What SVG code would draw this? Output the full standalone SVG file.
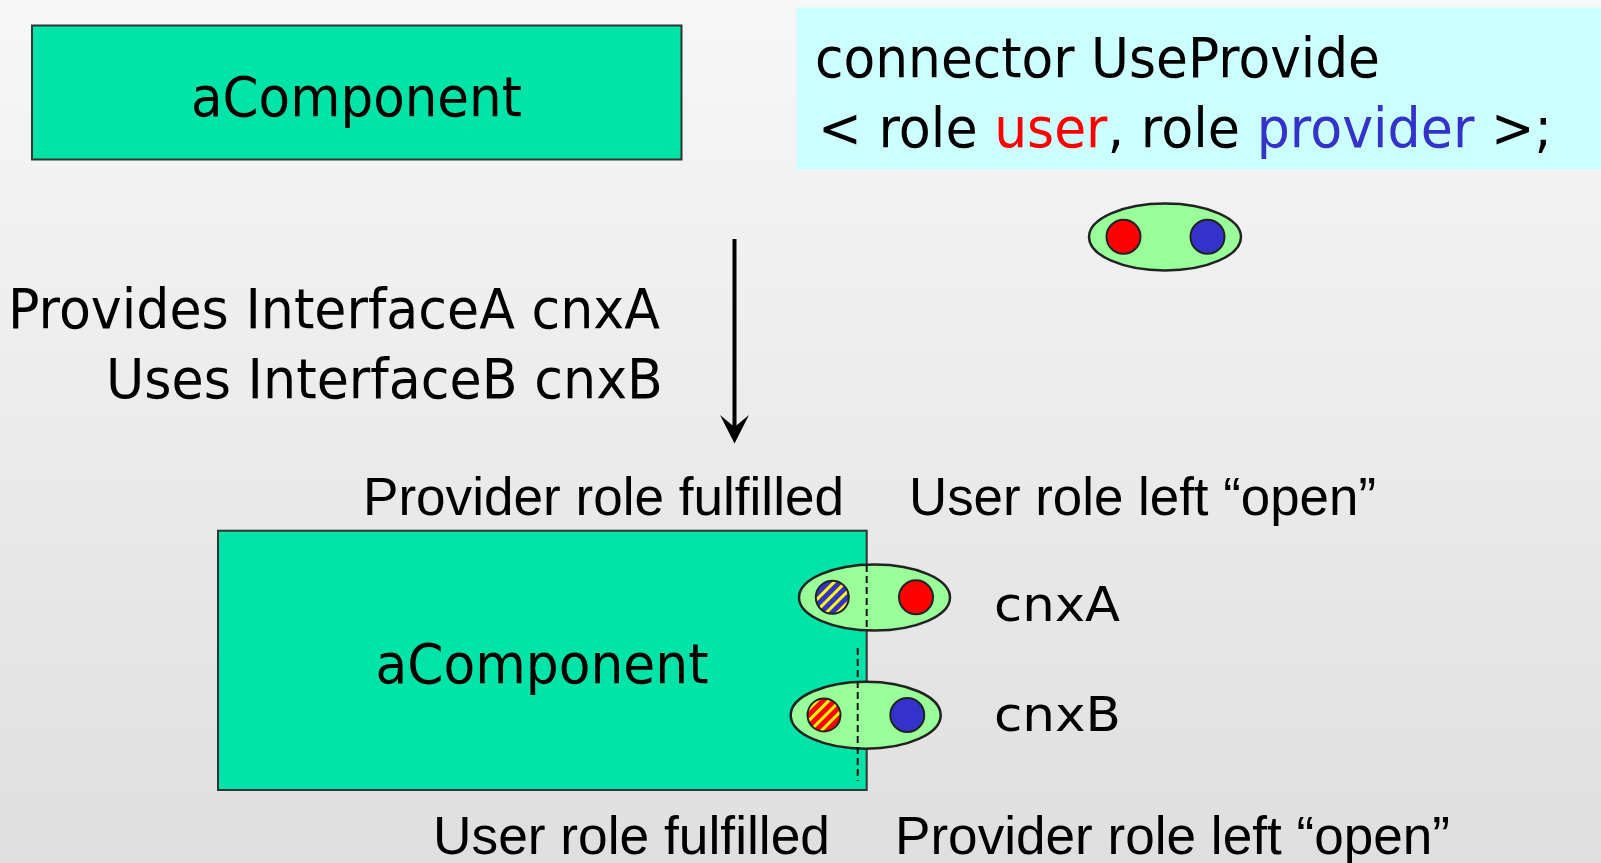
<svg xmlns="http://www.w3.org/2000/svg" width="1601" height="863" viewBox="0 0 1601 863">
  <defs>
    <linearGradient id="bg" x1="0" y1="0" x2="0" y2="1">
      <stop offset="0" stop-color="#F7F7F7"/>
      <stop offset="1" stop-color="#DFDFDF"/>
    </linearGradient>
    <!-- diagonal yellow stripes over the role colour -->
    <pattern id="hatchBlue" patternUnits="userSpaceOnUse" width="8" height="8" patternTransform="rotate(45)">
      <rect width="8" height="8" fill="#3333CC"/>
      <rect width="3" height="8" fill="#FFFF00"/>
    </pattern>
    <pattern id="hatchRed" patternUnits="userSpaceOnUse" width="8" height="8" patternTransform="rotate(45)">
      <rect width="8" height="8" fill="#FF0000"/>
      <rect width="3" height="8" fill="#FFFF00"/>
    </pattern>
  </defs>
  <style>
    .comp { fill: #00E4A8; stroke: #333333; stroke-width: 2; }
    .cnx { fill: #99FF99; stroke: #222222; stroke-width: 2.5; }
    .role { stroke: #222222; stroke-width: 2; }
    .user { fill: #FF0000; }
    .prov { fill: #3333CC; }
    .dash { stroke: #111111; stroke-width: 2; stroke-dasharray: 7 4; fill: none; }
    .tah { font-family: "DejaVu Sans", Verdana, sans-serif; fill: #000000; }
    .ari { font-family: "Liberation Sans", Arial, sans-serif; fill: #000000; font-size: 54px; }
  </style>

  <rect x="0" y="0" width="1601" height="863" fill="url(#bg)"/>

  <!-- component before binding -->
  <g id="component-top">
    <rect class="comp" x="32" y="25.5" width="649.5" height="134"/>
    <text class="tah" x="191" y="116" font-size="55" textLength="331" lengthAdjust="spacingAndGlyphs">aComponent</text>
  </g>

  <!-- connector declaration -->
  <g id="connector-decl">
    <rect x="796.5" y="7.5" width="805" height="162.5" fill="#CCFFFF"/>
    <text class="tah" x="815" y="77" font-size="56" textLength="565" lengthAdjust="spacingAndGlyphs">connector UseProvide</text>
    <text class="tah" x="818" y="147" font-size="56" textLength="159.6" lengthAdjust="spacingAndGlyphs">&lt; role</text>
    <text class="tah" x="994.2" y="147" font-size="56" textLength="113.3" lengthAdjust="spacingAndGlyphs" fill="#FF0000" style="fill:#FF0000">user</text>
    <text class="tah" x="1107.5" y="147" font-size="56" textLength="132.6" lengthAdjust="spacingAndGlyphs">, role</text>
    <text class="tah" x="1256.7" y="147" font-size="56" textLength="217.7" lengthAdjust="spacingAndGlyphs" style="fill:#3333CC">provider</text>
    <text class="tah" x="1490.9" y="147" font-size="56" textLength="61.1" lengthAdjust="spacingAndGlyphs">&gt;;</text>
  </g>

  <!-- connector with its two open roles -->
  <g id="connector-roles">
    <ellipse class="cnx" cx="1165" cy="237" rx="76" ry="33.5"/>
    <circle class="role user" cx="1123.5" cy="236.7" r="17"/>
    <circle class="role prov" cx="1207.5" cy="236.7" r="17"/>
  </g>

  <!-- declarations -->
  <g id="declarations">
    <text class="tah" x="8" y="328" font-size="56" textLength="652" lengthAdjust="spacingAndGlyphs">Provides InterfaceA cnxA</text>
    <text class="tah" x="106" y="398" font-size="56" textLength="557" lengthAdjust="spacingAndGlyphs">Uses InterfaceB cnxB</text>
  </g>

  <g id="connectors">
    <line x1="734.5" y1="239" x2="734.5" y2="428" stroke="#000000" stroke-width="4"/>
    <path d="M734.5,443.5 L720,415 L734.5,427 L749,415 Z" fill="#000000"/>
  </g>

  <!-- component after binding -->
  <g id="component-bound">
    <rect class="comp" x="218" y="530.7" width="648.7" height="259.3"/>
    <text class="tah" x="375.5" y="683" font-size="55" textLength="333" lengthAdjust="spacingAndGlyphs">aComponent</text>
  </g>

  <g id="cnxA">
    <ellipse class="cnx" cx="874.5" cy="597.5" rx="75.5" ry="33"/>
    <line class="dash" x1="866.7" y1="565" x2="866.7" y2="630"/>
    <circle class="role" fill="url(#hatchBlue)" cx="832.3" cy="597.3" r="16.5"/>
    <circle class="role user" cx="916" cy="597.3" r="17"/>
    <text class="tah" x="994" y="621" font-size="48" textLength="126" lengthAdjust="spacingAndGlyphs">cnxA</text>
  </g>

  <g id="cnxB">
    <ellipse class="cnx" cx="865.7" cy="715.2" rx="75" ry="33.5"/>
    <line class="dash" x1="857.7" y1="648" x2="857.7" y2="781"/>
    <circle class="role" fill="url(#hatchRed)" cx="824" cy="715" r="16.5"/>
    <circle class="role prov" cx="907.3" cy="715" r="17"/>
    <text class="tah" x="994" y="731" font-size="48" textLength="127" lengthAdjust="spacingAndGlyphs">cnxB</text>
  </g>

  <!-- role status notes -->
  <g id="notes">
    <text class="ari" x="363" y="515" textLength="481" lengthAdjust="spacingAndGlyphs">Provider role fulfilled</text>
    <text class="ari" x="909" y="515" textLength="467" lengthAdjust="spacingAndGlyphs">User role left “open”</text>
    <text class="ari" x="433" y="854" textLength="397" lengthAdjust="spacingAndGlyphs">User role fulfilled</text>
    <text class="ari" x="895" y="854" textLength="555" lengthAdjust="spacingAndGlyphs">Provider role left “open”</text>
  </g>
</svg>
